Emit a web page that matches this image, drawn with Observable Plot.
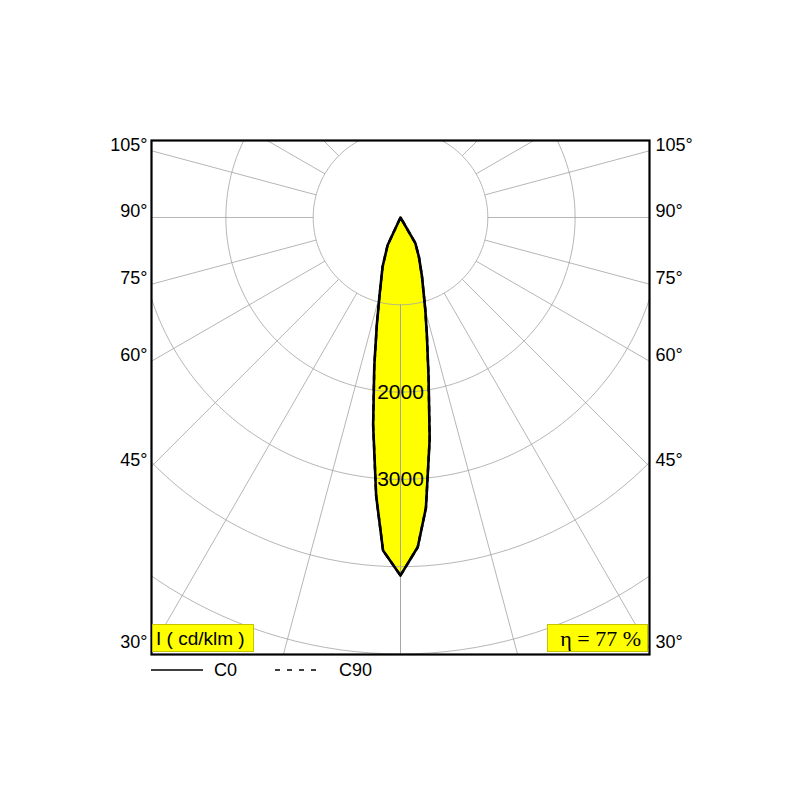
<!DOCTYPE html>
<html>
<head>
<meta charset="utf-8">
<script src="https://cdn.jsdelivr.net/npm/d3@7"></script>
<script src="https://cdn.jsdelivr.net/npm/@observablehq/plot@0.6"></script>
<style>
  html, body { margin: 0; padding: 0; background: #fff; }
  #wrap { position: relative; width: 800px; height: 800px; font-family: "Liberation Sans", Arial, sans-serif; }
  #chart { position: absolute; left: 0; top: 0; }
  .box { position: absolute; background: #ffff00; border: 1px solid #c4c400; box-sizing: border-box; height: 28px; line-height: 27px; font-size: 19px; color: #000; white-space: nowrap; }
  #legend { position: absolute; left: 151px; top: 659px; height: 22px; display: flex; align-items: center; font-size: 18px; }
  #legend span { display: inline-block; }
</style>
</head>
<body>
<div id="wrap">
  <div id="chart"></div>
  <div class="box" id="unitBox" style="left:152px; top:624px; width:102px; padding-left:3px;"></div>
  <div class="box" id="etaBox" style="left:547px; top:624px; width:101px; text-align:right; padding-right:6px; font-family:'Liberation Serif','Times New Roman',serif; font-size:22px;"></div>
  <div id="legend"></div>
</div>
<script>
// ---- data ----
const gammas = [0, 3, 5, 7.5, 10, 12.5, 15, 20, 25, 30, 35, 40, 50, 60, 70, 80, 90];
const c0   = [4100, 3780, 3340, 2560, 1850, 1400, 1100, 720, 500, 340, 0, 0, 0, 0, 0, 0, 0];
const c180 = [4100, 3820, 3200, 2400, 1730, 1250, 930, 600, 350, 0, 0, 0, 0, 0, 0, 0, 0];
const c90  = [4100, 3780, 3340, 2560, 1850, 1400, 1100, 720, 500, 340, 0, 0, 0, 0, 0, 0, 0];
const c270 = [4100, 3820, 3200, 2400, 1730, 1250, 930, 600, 350, 0, 0, 0, 0, 0, 0, 0, 0];
const rings = [1000, 2000, 3000, 4000, 5000];
const ringLabels = [2000, 3000];
const spokeAngles = [0, 15, 30, 45, 60, 75, 90, 105, 120, 135, 150, 165, 180];
const sideAngleLabels = [105, 90, 75, 60, 45, 30];
const unitText = "I ( cd/klm )";
const etaText = "η = 77 %";
const legendItems = ["C0", "C90"];

// ---- scale setup ----
const xMax = 2852, yTop = 882, yBottom = -5006;
const rad = d => d * Math.PI / 180;
const pt = (g, I, side) => ({x: side * I * Math.sin(rad(g)), y: -I * Math.cos(rad(g))});

function lobe(right, left) {
  const pts = gammas.map((g, i) => pt(g, right[i], 1));
  for (let i = gammas.length - 1; i >= 0; i--) pts.push(pt(gammas[i], left[i], -1));
  return pts;
}
const lobeC0 = lobe(c0, c180);
const lobeC90 = lobe(c90, c270);

const ringPts = rings.flatMap(r => d3.range(0, 361, 2).map(a => ({r, ...pt(a, r, 1)})));
const spokes = spokeAngles.flatMap(a => [1, -1].map(s => ({a, s})));
const labelRows = sideAngleLabels.map(a => ({a, y: -xMax / Math.tan(rad(a))}));

const gridStyle = {stroke: "#a3a3a3", strokeWidth: 0.8};

const plot = Plot.plot({
  width: 800,
  height: 660,
  marginLeft: 151,
  marginRight: 151,
  marginTop: 140,
  marginBottom: 6,
  x: {domain: [-xMax, xMax], axis: null},
  y: {domain: [yBottom, yTop], axis: null},
  style: {fontFamily: "'Liberation Sans', Arial, sans-serif", background: "white"},
  marks: [
    Plot.line(lobeC0, {x: "x", y: "y", fill: "#ffff00", stroke: "none"}),
    Plot.line(ringPts, {x: "x", y: "y", z: "r", ...gridStyle, clip: true}),
    Plot.link(spokes, {
      x1: d => d.s * 1000 * Math.sin(rad(d.a)), y1: d => -1000 * Math.cos(rad(d.a)),
      x2: d => d.s * 9000 * Math.sin(rad(d.a)), y2: d => -9000 * Math.cos(rad(d.a)),
      ...gridStyle, clip: true
    }),
    Plot.line(lobeC90, {x: "x", y: "y", stroke: "black", strokeWidth: 2.4, strokeDasharray: "5,5"}),
    Plot.line(lobeC0, {x: "x", y: "y", stroke: "black", strokeWidth: 2.6, strokeLinejoin: "round"}),
    Plot.text(ringLabels, {x: 0, y: d => -d, text: d => String(d), fontSize: 21, fill: "black"}),
    Plot.text(labelRows, {x: -xMax, y: "y", text: d => d.a + "°", textAnchor: "end", dx: -4, dy: -6, fontSize: 18, fill: "black"}),
    Plot.text(labelRows, {x: xMax, y: "y", text: d => d.a + "°", textAnchor: "start", dx: 6, dy: -6, fontSize: 18, fill: "black"}),
    Plot.frame({stroke: "black", strokeWidth: 2.2})
  ]
});
document.getElementById("chart").appendChild(plot);

document.getElementById("unitBox").textContent = unitText;
document.getElementById("etaBox").textContent = etaText;

// legend
const legend = document.getElementById("legend");
legendItems.forEach((name, i) => {
  const sw = document.createElementNS("http://www.w3.org/2000/svg", "svg");
  sw.setAttribute("width", i === 0 ? 52 : 44);
  sw.setAttribute("height", 10);
  sw.style.marginLeft = i === 0 ? "0px" : "38px";
  const ln = document.createElementNS("http://www.w3.org/2000/svg", "line");
  ln.setAttribute("x1", 0); ln.setAttribute("x2", i === 0 ? 52 : 44);
  ln.setAttribute("y1", 5); ln.setAttribute("y2", 5);
  ln.setAttribute("stroke", "black"); ln.setAttribute("stroke-width", 1.6);
  if (i === 1) ln.setAttribute("stroke-dasharray", "5,7");
  sw.appendChild(ln);
  legend.appendChild(sw);
  const t = document.createElement("span");
  t.textContent = name;
  t.style.marginLeft = i === 0 ? "11px" : "20px";
  legend.appendChild(t);
});
</script>
</body>
</html>
